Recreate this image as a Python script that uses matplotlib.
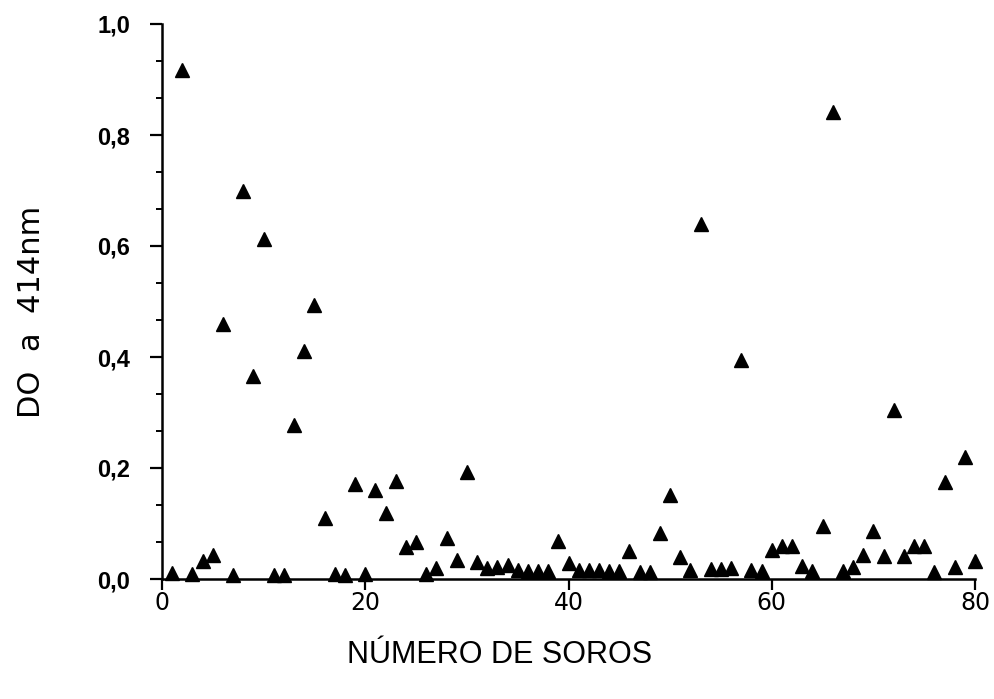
import matplotlib
matplotlib.use("Agg")
import matplotlib.pyplot as plt
from matplotlib.ticker import AutoMinorLocator, FixedLocator, FixedFormatter

# absorbância a 414 nm de cada soro (1..80)
soros = list(range(1, 81))
do_414 = [
    0.010, 0.918, 0.009, 0.033, 0.043, 0.459, 0.008, 0.700, 0.366, 0.612,
    0.007, 0.007, 0.277, 0.410, 0.493, 0.110, 0.009, 0.008, 0.172, 0.009,
    0.160, 0.119, 0.177, 0.058, 0.066, 0.009, 0.020, 0.074, 0.035, 0.193,
    0.030, 0.019, 0.022, 0.025, 0.016, 0.015, 0.015, 0.014, 0.068, 0.028,
    0.016, 0.016, 0.017, 0.015, 0.014, 0.050, 0.013, 0.012, 0.083, 0.152,
    0.040, 0.016, 0.640, 0.018, 0.018, 0.019, 0.394, 0.016, 0.014, 0.053,
    0.060, 0.059, 0.023, 0.015, 0.096, 0.842, 0.014, 0.022, 0.043, 0.087,
    0.042, 0.304, 0.041, 0.060, 0.060, 0.012, 0.174, 0.022, 0.220, 0.032,
]

x_ticks = [0, 20, 40, 60, 80]
x_labels = ["0", "20", "40", "60", "80"]
y_ticks = [0.0, 0.2, 0.4, 0.6, 0.8, 1.0]
y_labels = ["0,0", "0,2", "0,4", "0,6", "0,8", "1,0"]

narrow = ["Liberation Sans Narrow", "Liberation Sans", "DejaVu Sans"]

fig = plt.figure(figsize=(9.95, 6.99), dpi=100)
ax = fig.add_axes([162 / 995, 1 - 579 / 699, 813 / 995, 555 / 699])

ax.plot(soros, do_414, linestyle="none", marker="^", ms=10, color="black",
        clip_on=False)

ax.set_xlim(0, 80)
ax.set_ylim(0, 1.0)

for side in ("top", "right"):
    ax.spines[side].set_visible(False)
for side in ("left", "bottom"):
    ax.spines[side].set_linewidth(1.8)
    ax.spines[side].set_color("black")

ax.xaxis.set_major_locator(FixedLocator(x_ticks))
ax.xaxis.set_major_formatter(FixedFormatter(x_labels))
ax.yaxis.set_major_locator(FixedLocator(y_ticks))
ax.yaxis.set_major_formatter(FixedFormatter(y_labels))
ax.yaxis.set_minor_locator(AutoMinorLocator(3))

ax.tick_params(axis="x", which="major", direction="out", length=8, width=1.6,
               pad=1, labelsize=17)
ax.tick_params(axis="y", which="major", direction="out", length=9, width=1.6,
               pad=14)
ax.tick_params(axis="y", which="minor", direction="out", length=4, width=1.4)

for lab in ax.get_yticklabels():
    lab.set_family(narrow)
    lab.set_fontweight("bold")
    lab.set_fontsize(17)
for lab in ax.get_xticklabels():
    lab.set_family("DejaVu Sans")

fig.text(500 / 995, 1 - 655 / 699, "NÚMERO DE SOROS", family=narrow,
         fontsize=22, ha="center", va="center")
fig.text(32 / 995, 1 - 312 / 699, "DO  a  414nm", family="DejaVu Sans",
         fontsize=22, rotation=90, ha="center", va="center")

fig.savefig("out.png", dpi=100)
